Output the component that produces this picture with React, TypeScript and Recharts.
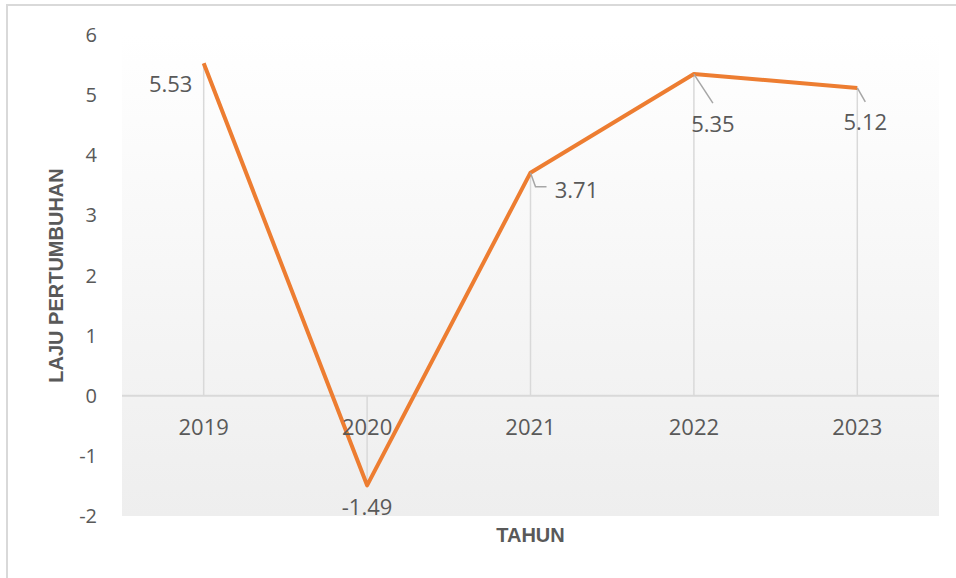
import {
  LineChart,
  Line,
  XAxis,
  YAxis,
  CartesianGrid,
  ReferenceLine,
  ReferenceDot,
  LabelList,
} from 'recharts';

const years = ['2019', '2020', '2021', '2022', '2023'];
const growth = [5.53, -1.49, 3.71, 5.35, 5.12];
const yTicks = [-2, -1, 0, 1, 2, 3, 4, 5, 6];

const chartData = years.map((year, i) => ({ year, growth: growth[i] }));

const TEXT = '#595959';
const ORANGE = '#ED7D31';
const GRID = '#d9d9d9';
const FONT = '"Open Sans", "Noto Sans", sans-serif';
const TITLE_FONT = '"Liberation Sans", Arial, sans-serif';

// where each data label sits relative to its point (moved by hand in the original)
const labelPlacement: Record<string, { dx: number; dy: number; leader?: number[][] }> = {
  '2019': { dx: -33, dy: 21 },
  '2020': { dx: 0, dy: 22 },
  '2021': { dx: 46, dy: 17, leader: [[0, 0], [5, 14], [16, 14]] },
  '2022': { dx: 19, dy: 50, leader: [[0, 0], [19, 29]] },
  '2023': { dx: 8, dy: 34, leader: [[0, 0], [8, 14]] },
};

function DataLabel(props: any) {
  const { x, y, value, index } = props;
  const place = labelPlacement[years[index]];
  if (!place) return null;
  return (
    <g>
      {place.leader && (
        <polyline
          points={place.leader.map(([px, py]) => `${x + px},${y + py}`).join(' ')}
          fill="none"
          stroke="#a6a6a6"
          strokeWidth={1.5}
        />
      )}
      <text
        x={x + place.dx}
        y={y + place.dy + 8}
        textAnchor="middle"
        fill={TEXT}
        fontSize={22}
        fontFamily={FONT}
      >
        {value.toFixed(2)}
      </text>
    </g>
  );
}

function YTitle(props: any) {
  const { viewBox } = props;
  const cx = viewBox.x + 56;
  const cy = viewBox.y + viewBox.height / 2;
  return (
    <text
      x={cx}
      y={cy}
      transform={`rotate(-90 ${cx} ${cy})`}
      textAnchor="middle"
      dominantBaseline="central"
      fill={TEXT}
      fontSize={20}
      fontWeight="bold"
      fontFamily={TITLE_FONT}
    >
      LAJU PERTUMBUHAN
    </text>
  );
}

function XTitle(props: any) {
  const { viewBox } = props;
  const cx = viewBox.x + viewBox.width / 2;
  return (
    <text
      x={cx}
      y={viewBox.y + 26}
      textAnchor="middle"
      fill={TEXT}
      fontSize={20}
      fontWeight="bold"
      fontFamily={TITLE_FONT}
    >
      TAHUN
    </text>
  );
}

export default function App() {
  return (
    <div
      style={{
        position: 'absolute',
        left: 0,
        top: 0,
        width: 956,
        height: 578,
        overflow: 'hidden',
        background: '#fff',
      }}
    >
      <div
        style={{
          position: 'absolute',
          left: 6,
          top: 4,
          width: 980,
          height: 600,
          border: `2px solid ${GRID}`,
        }}
      />
      <div style={{ position: 'absolute', left: 0, top: 0 }}>
        <LineChart
          width={956}
          height={578}
          data={chartData}
          margin={{ top: 35, right: 17, bottom: 0, left: 0 }}
        >
          <defs>
            <linearGradient id="plotBg" x1="0" y1="0" x2="0" y2="1">
              <stop offset="0%" stopColor="#ffffff" />
              <stop offset="100%" stopColor="#eeeeee" />
            </linearGradient>
          </defs>
          <CartesianGrid horizontal={false} vertical={false} fill="url(#plotBg)" />
          <XAxis
            dataKey="year"
            scale="band"
            tick={false}
            axisLine={false}
            tickLine={false}
            height={62}
            label={<XTitle />}
          />
          <YAxis
            domain={[-2, 6]}
            ticks={yTicks}
            axisLine={false}
            tickLine={false}
            tickMargin={19}
            width={122}
            tick={{ fill: TEXT, fontSize: 20, fontFamily: FONT }}
            label={<YTitle />}
          />
          <ReferenceLine y={0} stroke={GRID} strokeWidth={2} />
          {chartData.map((d) => (
            <ReferenceLine
              key={`drop-${d.year}`}
              segment={[
                { x: d.year, y: 0 },
                { x: d.year, y: d.growth },
              ]}
              stroke={GRID}
              strokeWidth={1.5}
            />
          ))}
          {years.map((year) => (
            <ReferenceDot
              key={`tick-${year}`}
              x={year}
              y={0}
              r={0}
              fill="none"
              stroke="none"
              label={{
                value: year,
                position: 'bottom',
                offset: 24,
                fill: TEXT,
                fontSize: 22,
                fontFamily: FONT,
              }}
            />
          ))}
          <Line
            type="linear"
            dataKey="growth"
            stroke={ORANGE}
            strokeWidth={4}
            strokeLinejoin="round"
            dot={false}
            activeDot={false}
            isAnimationActive={false}
          >
            <LabelList dataKey="growth" content={<DataLabel />} />
          </Line>
        </LineChart>
      </div>
    </div>
  );
}
